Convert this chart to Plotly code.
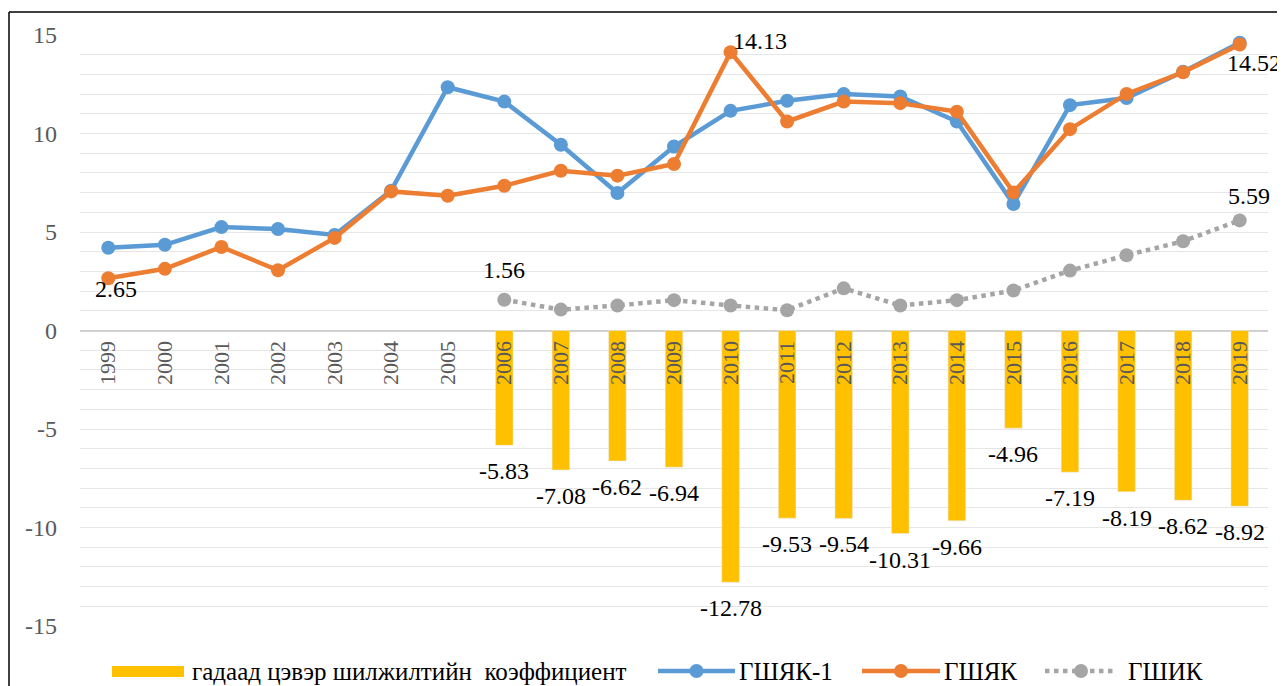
import plotly.graph_objects as go

# ---------------- data ----------------
years = [str(y) for y in range(1999, 2020)]
net_migration = [None] * 7 + [-5.83, -7.08, -6.62, -6.94, -12.78, -9.53, -9.54,
                              -10.31, -9.66, -4.96, -7.19, -8.19, -8.62, -8.92]
gshyak1 = [4.2, 4.35, 5.25, 5.15, 4.85, 7.1, 12.35, 11.62, 9.43, 6.98, 9.34,
           11.15, 11.66, 12.0, 11.88, 10.61, 6.42, 11.44, 11.8, 13.14, 14.61]
gshyak = [2.65, 3.13, 4.24, 3.06, 4.7, 7.06, 6.84, 7.35, 8.11, 7.86, 8.45,
          14.13, 10.61, 11.62, 11.54, 11.11, 7.01, 10.22, 12.01, 13.11, 14.52]
gshik = [None] * 7 + [1.56, 1.06, 1.27, 1.54, 1.27, 1.03, 2.14, 1.27, 1.54,
                      2.03, 3.04, 3.82, 4.53, 5.59]
series_names = ["гадаад цэвэр шилжилтийн  коэффициент", "ГШЯК-1", "ГШЯК", "ГШИК"]
y_ticks = [-15, -10, -5, 0, 5, 10, 15]
y_ticktext = ["-15", "-10", "-5", "0", "5", "10", "15"]

# labelled line points: (series, year, xshift, yshift)
line_labels = [
    ("ГШЯК", "1999", 8, -11),
    ("ГШЯК", "2010", 29, 11),
    ("ГШЯК", "2019", 14, -19),
    ("ГШИК", "2006", 0, 30),
    ("ГШИК", "2019", 9, 24),
]

# ---------------- style ----------------
OFF = 8                      # page body margin of the html page
W, H = 1277, 678
L, R, T, B = 72, 17, 27, 60
FONT = "Liberation Serif"
C_BAR = "#FFC000"
C_BLUE = "#5B9BD5"
C_ORANGE = "#ED7D31"
C_GREY = "#A5A5A5"
TXT_GREY = "#595959"

pw, ph = W - L - R, H - T - B


def px(x):  # viewport pixel -> paper
    return (x - OFF - L) / pw


def py(y):
    return (H - B - (y - OFF)) / ph


fig = go.Figure()

fig.add_trace(go.Bar(x=years, y=net_migration, name=series_names[0],
                     marker_color=C_BAR, width=0.31, showlegend=False))
fig.add_trace(go.Scatter(x=years, y=gshyak1, name=series_names[1], mode="lines+markers",
                         line=dict(color=C_BLUE, width=4.5), marker=dict(size=14, color=C_BLUE),
                         showlegend=False))
fig.add_trace(go.Scatter(x=years, y=gshyak, name=series_names[2], mode="lines+markers",
                         line=dict(color=C_ORANGE, width=4.5), marker=dict(size=14, color=C_ORANGE),
                         showlegend=False))
fig.add_trace(go.Scatter(x=years, y=gshik, name=series_names[3], mode="lines+markers",
                         line=dict(color=C_GREY, width=4.5, dash="dot"),
                         marker=dict(size=14, color=C_GREY), showlegend=False,
                         connectgaps=False))

annotations = []
lab_font = dict(family=FONT, size=24, color="#000000")
# bar value labels
for i, v in enumerate(net_migration):
    if v is None:
        continue
    annotations.append(dict(x=i, y=v, xref="x", yref="y", text=f"{v:.2f}",
                            showarrow=False, yanchor="top", yshift=-11,
                            font=lab_font))
# line value labels
series_map = {"ГШЯК-1": gshyak1, "ГШЯК": gshyak, "ГШИК": gshik}
for s, yr, dx, dy in line_labels:
    i = years.index(yr)
    v = series_map[s][i]
    annotations.append(dict(x=i, y=v, xref="x", yref="y", text=f"{v:.2f}",
                            showarrow=False, xshift=dx, yshift=dy,
                            font=lab_font))

# ---------------- manual legend ----------------
shapes = []
LEG_Y = 671
leg_font = dict(family=FONT, size=25, color="#000000")
shapes.append(dict(type="rect", xref="paper", yref="paper",
                   x0=px(112), x1=px(184), y0=py(677), y1=py(666),
                   fillcolor=C_BAR, line=dict(width=0)))
annotations.append(dict(x=px(190), y=py(LEG_Y), xref="paper", yref="paper",
                        text=series_names[0], showarrow=False, xanchor="left",
                        yanchor="middle", font=leg_font))
for (x0, x1, tx, col, dash, name) in [
    (658, 735, 737, C_BLUE, "solid", series_names[1]),
    (862, 940, 942, C_ORANGE, "solid", series_names[2]),
    (1045, 1117, 1126, C_GREY, "dot", series_names[3]),
]:
    shapes.append(dict(type="line", xref="paper", yref="paper",
                       x0=px(x0), x1=px(x1), y0=py(LEG_Y), y1=py(LEG_Y),
                       line=dict(color=col, width=4.5, dash=dash)))
    xm = px((x0 + x1) / 2)
    shapes.append(dict(type="circle", xref="paper", yref="paper",
                       xsizemode="pixel", ysizemode="pixel",
                       xanchor=xm, yanchor=py(LEG_Y),
                       x0=-7, x1=7, y0=-7, y1=7,
                       fillcolor=col, line=dict(width=0)))
    annotations.append(dict(x=px(tx), y=py(LEG_Y), xref="paper", yref="paper",
                            text=name, showarrow=False, xanchor="left",
                            yanchor="middle", font=leg_font))

# chart border (left and top edges)
shapes.append(dict(type="line", xref="paper", yref="paper",
                   x0=px(9), x1=px(9), y0=py(12), y1=py(700),
                   line=dict(color="#000000", width=1.5)))
shapes.append(dict(type="line", xref="paper", yref="paper",
                   x0=px(9), x1=px(1300), y0=py(12), y1=py(12),
                   line=dict(color="#000000", width=1.5)))

fig.update_layout(
    width=W, height=H,
    margin=dict(l=L, r=R, t=T, b=B),
    paper_bgcolor="white", plot_bgcolor="white",
    barmode="overlay",
    showlegend=False,
    annotations=annotations,
    shapes=shapes,
    font=dict(family=FONT),
)

fig.update_yaxes(
    range=[-15, 15], tickvals=y_ticks, ticktext=y_ticktext, ticks="",
    tickfont=dict(family=FONT, size=24, color=TXT_GREY),
    ticklabelstandoff=22,
    showgrid=True, gridcolor="#e6e6e6", gridwidth=1,
    minor=dict(dtick=1, showgrid=True, gridcolor="#e6e6e6", gridwidth=1),
    zeroline=True, zerolinecolor="#d0d0d0", zerolinewidth=1.5,
    showline=False,
)
fig.update_xaxes(
    type="category", range=[-0.5, 20.5],
    anchor="free", position=0.5,
    tickangle=-90, ticks="",
    tickfont=dict(family=FONT, size=22, color=TXT_GREY),
    ticklabelstandoff=5,
    showgrid=False, showline=False, zeroline=False,
)

fig.write_html("out.html")
